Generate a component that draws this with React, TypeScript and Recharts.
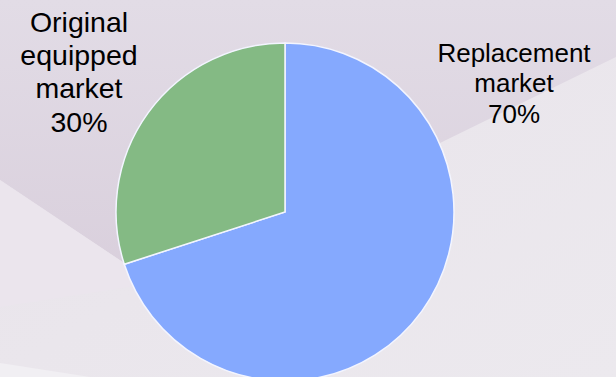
import React from 'react';
import { PieChart, Pie, Cell } from 'recharts';

const segmentNames = ['Replacement market', 'Original equipped market'];
const segmentValues = [70, 30];
const segmentColors = ['#85a9fe', '#84ba84'];

const data = segmentNames.map((name, i) => ({ name, value: segmentValues[i] }));

// manual label placement (slide-style), relative to the pie centre
const labelLayout = [
  { dx: 229, dy: -150.3, fontSize: 26, lineHeight: 30.5 },
  { dx: -206, dy: -180.3, fontSize: 28.5, lineHeight: 33.3 },
];

const W = 616;
const H = 377;

const renderLabel = (props: any) => {
  const { cx, cy, index, name, percent } = props;
  const l = labelLayout[index];
  const lines = [...String(name).split(' '), `${Math.round(percent * 100)}%`];
  return (
    <text
      x={cx + l.dx}
      y={cy + l.dy}
      textAnchor="middle"
      fill="#000"
      fontSize={l.fontSize}
      fontFamily="'Liberation Sans', Arial, sans-serif"
    >
      {lines.map((t, i) => (
        <tspan key={i} x={cx + l.dx} dy={i === 0 ? 0 : l.lineHeight}>
          {t}
        </tspan>
      ))}
    </text>
  );
};

const Background = () => (
  <svg width={W} height={H} style={{ position: 'absolute', left: 0, top: 0 }}>
    <defs>
      <linearGradient id="bgTop" x1="0" y1="0" x2="0" y2="1">
        <stop offset="0%" stopColor="#e2dce6" />
        <stop offset="100%" stopColor="#d9cfdc" />
      </linearGradient>
      <linearGradient id="bgLow" x1="0" y1="0" x2="1" y2="1">
        <stop offset="0%" stopColor="#e8e3ea" />
        <stop offset="100%" stopColor="#ece9ee" />
      </linearGradient>
    </defs>
    <rect x={0} y={0} width={W} height={H} fill="url(#bgLow)" />
    <polygon points="0,0 616,0 616,57 154,283 0,180" fill="url(#bgTop)" />
    <polygon points="0,180 154,283 0,307" fill="#ebe5ed" />
    <polygon points="0,363 90,377 0,377" fill="#f1eff3" />
  </svg>
);

export default function App() {
  return (
    <div style={{ position: 'absolute', left: 0, top: 0, width: W, height: H, overflow: 'hidden' }}>
      <Background />
      <div style={{ position: 'absolute', left: 0, top: 0 }}>
        <PieChart width={W} height={H} margin={{ top: 0, right: 0, bottom: 0, left: 0 }}>
          <Pie
            data={data}
            dataKey="value"
            nameKey="name"
            cx={285}
            cy={212}
            outerRadius={169}
            startAngle={90}
            endAngle={-270}
            stroke="#f3f5ff"
            strokeWidth={1.5}
            label={renderLabel}
            labelLine={false}
            isAnimationActive={false}
          >
            {data.map((d, i) => (
              <Cell key={d.name} fill={segmentColors[i]} />
            ))}
          </Pie>
        </PieChart>
      </div>
    </div>
  );
}
